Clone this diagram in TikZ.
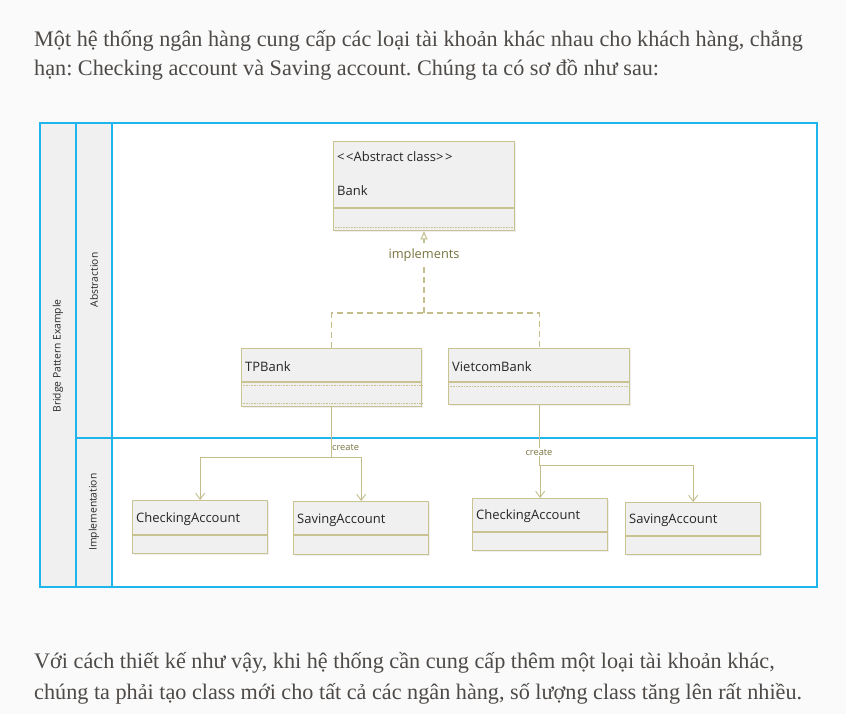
\documentclass[tikz,border=0pt]{standalone}
\usepackage{fontspec}
\setmainfont{Liberation Serif}
\setsansfont{Open Sans}
\usetikzlibrary{arrows.meta,shadows}
\frenchspacing
\tikzstyle{every picture}+=[font=\sffamily]
\tikzstyle{lane}=[draw=laneblue, line width=1.6pt]
\tikzstyle{lanehead}=[fill=lanegray]
\tikzstyle{lanetext}=[rotate=90, font=\sffamily\fontsize{10.3}{12}\selectfont, text=black!85]
\tikzstyle{classbox}=[draw=umlborder, fill=umlfill, line width=1.3pt, anchor=north west, inner sep=0pt, drop shadow={shadow xshift=1.5pt, shadow yshift=-1.5pt, opacity=0.12}]
\tikzstyle{classtext}=[anchor=base west, inner sep=0pt, font=\sffamily\fontsize{13}{15}\selectfont, text=black!85]
\tikzstyle{implline}=[draw=umlline, line width=1.3pt, dash pattern=on 6pt off 4pt]
\tikzstyle{createline}=[draw=umlline, line width=0.9pt]
\tikzstyle{smalllabel}=[font=\sffamily\fontsize{9.3}{10}\selectfont, text=umltext, inner sep=1pt]
\tikzstyle{bodytext}=[anchor=base west, inner sep=0pt, font=\rmfamily\fontsize{22.2}{25}\selectfont, text=bodygray]

\begin{document}
\begin{tikzpicture}[x=1pt, y=-1pt]

\definecolor{laneblue}{HTML}{1EB4EC}
\definecolor{lanegray}{HTML}{F0F0F0}
\definecolor{umlborder}{HTML}{C9C392}
\definecolor{umlfill}{HTML}{F0F0F0}
\definecolor{umlline}{HTML}{C4BD8C}
\definecolor{umltext}{HTML}{77733F}
\definecolor{bodygray}{HTML}{4E4A47}
\definecolor{pagebg}{HTML}{FAFAFA}

%% page
\fill[pagebg] (0,0) rectangle (846,714);
\useasboundingbox (0,0) rectangle (846,714);

\node[bodytext] (para1a) at (34,47) {Một hệ thống ngân hàng cung cấp các loại tài khoản khác nhau cho khách hàng, chẳng};
\node[bodytext] (para1b) at (34,76) {hạn: Checking account và Saving account. Chúng ta có sơ đồ như sau:};
\node[bodytext] (para2a) at (34,668) {Với cách thiết kế như vậy, khi hệ thống cần cung cấp thêm một loại tài khoản khác,};
\node[bodytext] (para2b) at (34,699) {chúng ta phải tạo class mới cho tất cả các ngân hàng, số lượng class tăng lên rất nhiều.};

%% swimlanes
\fill[white] (40,123) rectangle (817,587);
\fill[lanehead] (40,123) rectangle (112,587);
\draw[lane] (40,123) rectangle (817,587);
\draw[lane] (76,123) -- (76,587);
\draw[lane] (112,123) -- (112,587);
\draw[lane] (76,438) -- (817,438);
\node[lanetext] (lanemain) at (58,356) {Bridge Pattern Example};
\node[lanetext] (laneabs) at (94,280) {Abstraction};
\node[lanetext] (laneimp) at (94,512) {Implementation};

%% classes
\node[classbox, minimum width=181pt, minimum height=89pt] (bank) at (333,141) {};
\draw[umlborder, line width=1.3pt] ([yshift=-67pt]bank.north west) -- ([yshift=-67pt]bank.north east);
\draw[umlborder, densely dotted, line width=0.6pt] ([yshift=-86pt]bank.north west) -- ([yshift=-86pt]bank.north east);
\node[classtext] (bankstereo) at (337,162) {<\kern1.5pt<Abstract class>\kern1.5pt>};
\node[classtext] (bankname) at (337,196) {Bank};

\node[classbox, minimum width=180pt, minimum height=58pt] (tp) at (241,348) {};
\draw[umlborder, line width=1.3pt] ([yshift=-34pt]tp.north west) -- ([yshift=-34pt]tp.north east);
\draw[umlborder, densely dotted, line width=0.6pt] ([yshift=-37pt]tp.north west) -- ([yshift=-37pt]tp.north east);
\draw[umlborder, densely dotted, line width=0.6pt] ([yshift=-55pt]tp.north west) -- ([yshift=-55pt]tp.north east);
\node[classtext] (tpname) at (245,371) {TPBank};

\node[classbox, minimum width=181pt, minimum height=56pt] (vb) at (448,348) {};
\draw[umlborder, line width=1.3pt] ([yshift=-34pt]vb.north west) -- ([yshift=-34pt]vb.north east);
\draw[umlborder, densely dotted, line width=0.6pt] ([yshift=-38pt]vb.north west) -- ([yshift=-38pt]vb.north east);
\node[classtext] (vbname) at (452,371) {VietcomBank};

\node[classbox, minimum width=135pt, minimum height=53pt] (ca1) at (132,500) {};
\draw[umlborder, line width=1.3pt] ([yshift=-35pt]ca1.north west) -- ([yshift=-35pt]ca1.north east);
\node[classtext] (ca1name) at (136,522) {CheckingAccount};

\node[classbox, minimum width=135pt, minimum height=53pt] (sa1) at (293,501) {};
\draw[umlborder, line width=1.3pt] ([yshift=-34pt]sa1.north west) -- ([yshift=-34pt]sa1.north east);
\node[classtext] (sa1name) at (297,523) {SavingAccount};

\node[classbox, minimum width=135pt, minimum height=52pt] (ca2) at (472,498) {};
\draw[umlborder, line width=1.3pt] ([yshift=-34pt]ca2.north west) -- ([yshift=-34pt]ca2.north east);
\node[classtext] (ca2name) at (476,519) {CheckingAccount};

\node[classbox, minimum width=135pt, minimum height=52pt] (sa2) at (625,502) {};
\draw[umlborder, line width=1.3pt] ([yshift=-34pt]sa2.north west) -- ([yshift=-34pt]sa2.north east);
\node[classtext] (sa2name) at (629,523) {SavingAccount};

%% implements
\coordinate (implfork) at (424,313);
\draw[implline] (tp.north) |- (implfork) -| (vb.north);
\draw[implline, -{Triangle[open, length=8pt, width=7pt, line width=1pt]}] (implfork) -- (bank.south -| implfork);
\node[smalllabel, fill=white, font=\sffamily\fontsize{12.8}{14}\selectfont, inner sep=2pt] (impllabel) at (424,255) {implements};

%% create
\coordinate (tpfork) at (tp.south |- 0,457);
\draw[createline] (tp.south) -- (tpfork);
\draw[createline, -{Straight Barb[length=6pt, width=9pt]}] (tpfork) -| (ca1.north);
\draw[createline, -{Straight Barb[length=6pt, width=9pt]}] (tpfork) -| (sa1.north);
\node[smalllabel, anchor=west] (tpcreate) at (331,447) {create};

\coordinate (vbfork) at (vb.south |- 0,465);
\draw[createline] (vb.south) -- (vbfork);
\draw[createline, -{Straight Barb[length=6pt, width=9pt]}] (vbfork) -| (ca2.north);
\draw[createline, -{Straight Barb[length=6pt, width=9pt]}] (vbfork) -| (sa2.north);
\node[smalllabel, fill=white] (vbcreate) at (539,452) {create};

\end{tikzpicture}
\end{document}
